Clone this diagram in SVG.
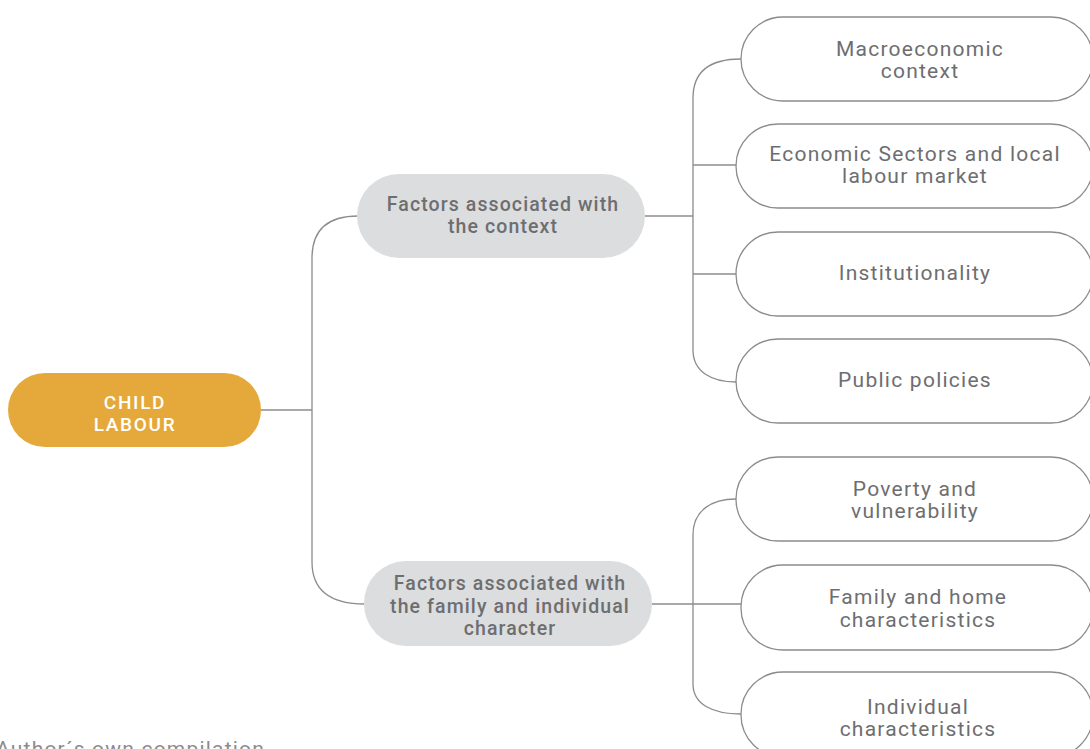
<svg xmlns="http://www.w3.org/2000/svg" width="1090" height="749" viewBox="0 0 1090 749">
<style>
.c{fill:none;stroke:#8c8c8c;stroke-width:1.3}
.leaf rect{fill:#fff;stroke:#8c8c8c;stroke-width:1.3}
.leaf text{font-family:Roboto,"Liberation Sans",sans-serif;font-size:21px;fill:#6d6e70;text-anchor:middle;letter-spacing:1.25px}
.mid rect{fill:#dcddde}
.mid text{font-family:Roboto,"Liberation Sans",sans-serif;font-size:19.5px;font-weight:500;fill:#6d6e70;text-anchor:middle;letter-spacing:1.1px}
.root text{font-family:Roboto,"Liberation Sans",sans-serif;font-size:19px;font-weight:500;fill:#fff;text-anchor:middle;letter-spacing:1.7px}
</style>
<rect width="1090" height="749" fill="#fff"/>
<g id="connectors">
<path class="c" d="M261,410 H312"/>
<path class="c" d="M358,216 C330,216 312,228 312,258 V562 C312,590 330,604 365,604"/>
<path class="c" d="M645,216 H693"/>
<path class="c" d="M741,59 C712,59 693,70 693,98 V350 C693,372 712,382 736,382"/>
<path class="c" d="M693,165 H736"/>
<path class="c" d="M693,274 H736"/>
<path class="c" d="M652,604 H741"/>
<path class="c" d="M736,499 C712,499 693,510 693,535 V684 C693,704 712,714 741,714"/>
</g>
<g id="child-labour" class="root">
<rect x="8" y="373" width="253" height="74" rx="37" fill="#e4a93a"/>
<text><tspan x="135" y="409">CHILD</tspan><tspan x="135" y="431">LABOUR</tspan></text>
</g>
<g id="context" class="mid">
<rect x="357" y="174" width="288" height="84" rx="42"/>
<text><tspan x="503" y="211">Factors associated with</tspan><tspan x="503" y="233">the context</tspan></text>
</g>
<g id="family-individual" class="mid">
<rect x="364" y="561" width="288" height="85" rx="42"/>
<text><tspan x="510" y="590">Factors associated with</tspan><tspan x="510" y="613">the family and individual</tspan><tspan x="510" y="635">character</tspan></text>
</g>
<g id="macroeconomic" class="leaf">
<rect x="741" y="17" width="352" height="84" rx="42"/>
<text><tspan x="920" y="56">Macroeconomic</tspan><tspan x="920" y="78">context</tspan></text>
</g>
<g id="economic-sectors" class="leaf">
<rect x="736" y="124" width="357" height="84" rx="42"/>
<text><tspan x="915" y="161">Economic Sectors and local</tspan><tspan x="915" y="183">labour market</tspan></text>
</g>
<g id="institutionality" class="leaf">
<rect x="736" y="232" width="357" height="84" rx="42"/>
<text x="915" y="280">Institutionality</text>
</g>
<g id="public-policies" class="leaf">
<rect x="736" y="339" width="357" height="84" rx="42"/>
<text x="915" y="387">Public policies</text>
</g>
<g id="poverty" class="leaf">
<rect x="736" y="457" width="357" height="84" rx="42"/>
<text><tspan x="915" y="496">Poverty and</tspan><tspan x="915" y="518">vulnerability</tspan></text>
</g>
<g id="family-home" class="leaf">
<rect x="741" y="565" width="352" height="85" rx="42"/>
<text><tspan x="918" y="604">Family and home</tspan><tspan x="918" y="627">characteristics</tspan></text>
</g>
<g id="individual" class="leaf">
<rect x="741" y="672" width="352" height="85" rx="42"/>
<text><tspan x="918" y="714">Individual</tspan><tspan x="918" y="736">characteristics</tspan></text>
</g>
<text x="-4" y="756" font-family="Roboto,'Liberation Sans',sans-serif" font-size="21" letter-spacing="1.2" fill="#8c8c8c">Author´s own compilation</text>
</svg>
